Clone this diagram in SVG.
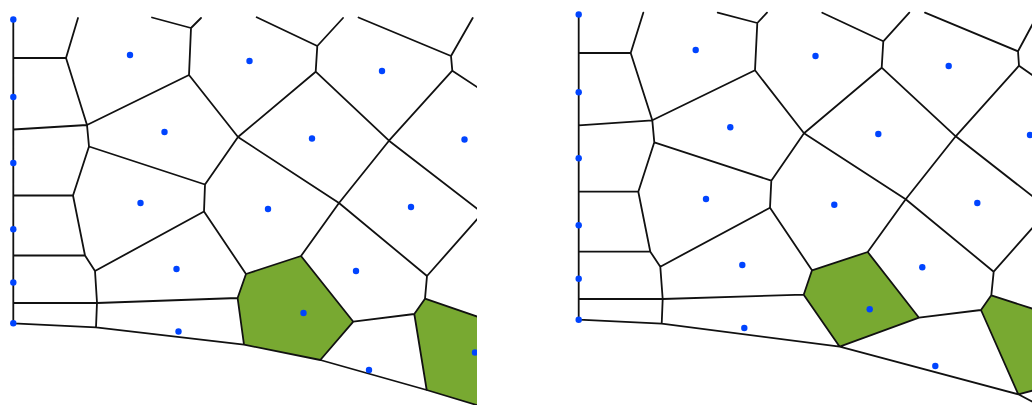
<svg xmlns="http://www.w3.org/2000/svg" width="1032" height="405" viewBox="0 0 1032 405">
<style>
.c{fill:#78a931;stroke:none}
.e{fill:none;stroke:#111;stroke-width:1.8;stroke-linejoin:round;stroke-linecap:round}
.d{fill:#0044ff}
</style>
<defs><clipPath id="clipL"><rect x="0" y="0" width="477" height="405"/></clipPath></defs>
<rect width="1032" height="405" fill="#fff"/>
<g id="panel-left" clip-path="url(#clipL)">
<g id="cells-left">
<polygon class="c" points="246,274 301,256 353.3,321.7 320.3,360 244,344.7 237.6,298"/>
<polygon class="c" points="414.3,314 425,298.7 480,317.5 480,406 426.7,390"/>
</g>
<path id="edges-left" class="e" d="M13.3,19.5V323.3M13.3,58H66L78,18M66,58L87,125M13.3,129.5L87,125L89,146.5M87,125L189,75L191,28L152,17.5M191,28L201,18M189,75L238,137L205,184.5L89,146.5L73,195.5H13.3M73,195.5L85,255.5H13.3M85,255.5L95,271L97,302.5L96,327.3M13.3,303H97L237.6,298L246,274L301,256L353.3,321.7L320.3,360L244,344.7L237.6,298M95,271L204,211.5L205,184.5M204,211.5L246,274M13.3,323.3L96,327.3L244,344.7L320.3,360L426.7,390L480,406M353.3,321.7L414.3,314L425,298.7L480,317.5M414.3,314L426.7,390M425,298.7L427,276L480,216M427,276L339,203L238,137M301,256L339,203L389,140.7L480,211M389,140.7L315.7,71.7L238,137M315.7,71.7L317.3,46L256.7,17.3M317.3,46L343,18M389,140.7L452.3,70.7L451,56L358.5,17.5M451,56L472.7,18M452.3,70.7L480,89"/>
<g id="sites-left" class="d">
<circle cx="13.3" cy="19.5" r="3.2"/><circle cx="13.3" cy="97" r="3.2"/><circle cx="13.3" cy="163" r="3.2"/><circle cx="13.3" cy="229.3" r="3.2"/><circle cx="13.3" cy="282.5" r="3.2"/><circle cx="13.3" cy="323.3" r="3.2"/>
<circle cx="130" cy="55" r="3.2"/><circle cx="249.5" cy="61" r="3.2"/><circle cx="382" cy="71" r="3.2"/><circle cx="164.5" cy="132" r="3.2"/><circle cx="312" cy="138.5" r="3.2"/><circle cx="464.5" cy="139.5" r="3.2"/><circle cx="140.5" cy="203" r="3.2"/><circle cx="268" cy="209" r="3.2"/><circle cx="411" cy="207" r="3.2"/><circle cx="176.5" cy="269" r="3.2"/><circle cx="356" cy="271" r="3.2"/><circle cx="303.5" cy="313" r="3.2"/><circle cx="178.5" cy="331.5" r="3.2"/><circle cx="369" cy="370" r="3.2"/><circle cx="475" cy="352.5" r="3.2"/>
</g>
</g>
<g id="panel-right">
<g id="cells-right">
<polygon class="c" points="812,270.3 867.7,252 919,317.7 839.7,346.7 803.7,294.7"/>
<polygon class="c" points="981,310 991.3,295.3 1034,309.2 1034,390.2 1018.3,394.3"/>
</g>
<path id="edges-right" class="e" d="M578.7,14.5V319.7M578.7,53H630.7L643.3,12.7M630.7,53L652.3,120.3M578.7,125.3L652.3,120.3L654.3,142.3M652.3,120.3L755,70.3L757.3,23L717.7,12.7M757.3,23L767,12.7M755,70.3L804,133.3L771.3,180.7L654.3,142.3L638.3,191.7H578.7M638.3,191.7L650.3,251.7H578.7M650.3,251.7L660.3,266.7L662.7,299L661.7,323.7M578.7,299H662.7L803.7,294.7L812,270.3L867.7,252L919,317.7L839.7,346.7L803.7,294.7M660.3,266.7L770,207.7L771.3,180.7M770,207.7L812,270.3M578.7,319.7L661.7,323.7L839.7,346.7L1018.3,394.3L1034,402.5M919,317.7L981,310L991.3,295.3L1034,309.2M981,310L1018.3,394.3L1034,390.2M991.3,295.3L993.7,271.7L1034,226M993.7,271.7L905.7,199.3L804,133.3M867.7,252L905.7,199.3L955.7,136.3L1034,197.5M955.7,136.3L881.7,67.7L804,133.3M881.7,67.7L883.3,41.3L822.3,12.7M883.3,41.3L909.3,12.7M955.7,136.3L1019,65.7L1018,51.3L925,12.7M1018,51.3L1034,21.5M1019,65.7L1034,76.2"/>
<g id="sites-right" class="d">
<circle cx="578.7" cy="14.5" r="3.2"/><circle cx="578.7" cy="92.3" r="3.2"/><circle cx="578.7" cy="158.3" r="3.2"/><circle cx="578.7" cy="225.3" r="3.2"/><circle cx="578.7" cy="278.7" r="3.2"/><circle cx="578.7" cy="319.7" r="3.2"/>
<circle cx="695.7" cy="50" r="3.2"/><circle cx="815.5" cy="56" r="3.2"/><circle cx="948.7" cy="66" r="3.2"/><circle cx="730.3" cy="127.3" r="3.2"/><circle cx="878.3" cy="134" r="3.2"/><circle cx="1030" cy="135" r="3.2"/><circle cx="706" cy="199" r="3.2"/><circle cx="834.3" cy="204.7" r="3.2"/><circle cx="977.3" cy="203" r="3.2"/><circle cx="742.3" cy="265" r="3.2"/><circle cx="922.3" cy="267.3" r="3.2"/><circle cx="869.7" cy="309.3" r="3.2"/><circle cx="744.3" cy="328" r="3.2"/><circle cx="935.3" cy="366" r="3.2"/>
</g>
</g>
</svg>
